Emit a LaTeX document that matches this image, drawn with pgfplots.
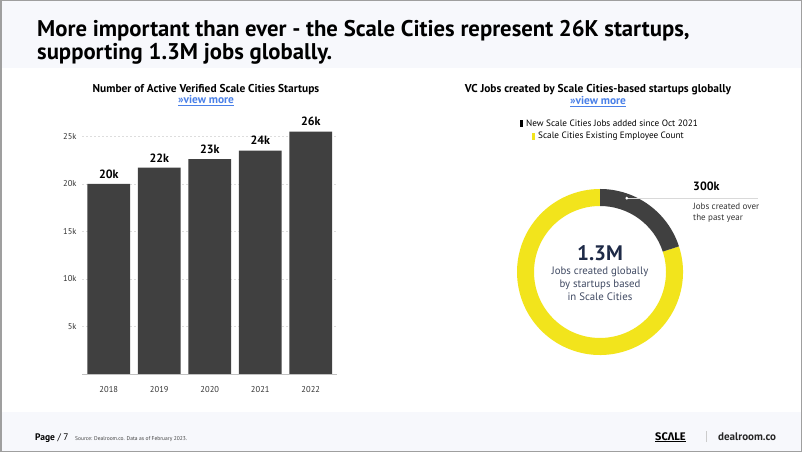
\documentclass[border=0pt]{standalone}
\usepackage{pgfplots}
\pgfplotsset{compat=1.18}
\usepackage{pgfplotstable}
\usepackage{fontspec}
\setmainfont{PT Sans}
\newfontfamily\fira{Fira Sans}
\definecolor{barc}{HTML}{404040}
\definecolor{yel}{HTML}{F2E41C}
\definecolor{hdr}{HTML}{F7F8FC}
\definecolor{navy}{HTML}{1E2A47}
\definecolor{linkc}{HTML}{4A80E8}
\definecolor{gridc}{HTML}{DDDDDD}

\pgfplotstableread{
x y lab
0 20000 20k
1 21700 22k
2 22600 23k
3 23500 24k
4 25500 26k
}\startups

\pgfplotstableread{
part value
new 260
existing 1040
}\jobs

\newcommand{\fs}[1]{\fontsize{#1}{#1}\selectfont}

\begin{document}
\begin{tikzpicture}
% page
\fill[white] (0pt,0pt) rectangle (802pt,452pt);
\fill[hdr] (0pt,452pt) rectangle (802pt,384pt);
\fill[hdr] (0pt,0pt) rectangle (802pt,40pt);
\draw[gray!75, line width=1.5pt] (0.75pt,0.75pt) rectangle (801.25pt,451.25pt);

% main title
\node[anchor=base west, inner sep=0, font=\fs{22.7}\bfseries] at (37pt,415pt) {More important than ever - the Scale Cities represent 26K startups,};
\node[anchor=base west, inner sep=0, font=\fs{22.7}\bfseries] at (37pt,392pt) {supporting 1.3M jobs globally.};

% bar chart title
\node[anchor=base, inner sep=0, font=\fs{11.4}\bfseries] at (206pt,359pt) {Number of Active Verified Scale Cities Startups};
\node[anchor=base, inner sep=0, font=\fs{11.4}\bfseries, text=linkc] at (206pt,348pt) {\underline{»view more}};

% bar chart
\begin{axis}[at={(82pt,78pt)}, anchor=south west, scale only axis,
  width=255pt, height=252pt,
  ybar, bar width=0.85,
  xmin=-0.53, xmax=4.52, ymin=0, ymax=26500,
  axis line style={draw=none}, tick style={draw=none},
  ymajorgrids, grid style={gridc, dash pattern=on 2pt off 2pt},
  xtick=data, xticklabels={2018,2019,2020,2021,2022},
  ytick={5000,10000,15000,20000,25000},
  yticklabels={5k,10k,15k,20k,25k},
  scaled y ticks=false,
  ticklabel style={font=\fs{8.5}, text=black!80},
  xticklabel style={yshift=-5pt},
  yticklabel style={xshift=-2pt},
  nodes near coords, point meta=explicit symbolic,
  nodes near coords style={font=\fs{12}\bfseries, text=black, anchor=south, yshift=2pt},
  clip=false]
\addplot[fill=barc, draw=none] table[x=x, y=y, meta=lab]{\startups};
\draw[gridc!70!gray] (axis description cs:0,0) -- (axis description cs:1,0);
\end{axis}

% donut title & legend
\node[anchor=base, inner sep=0, font=\fs{11.4}\bfseries] at (598pt,359.5pt) {VC Jobs created by Scale Cities-based startups globally};
\node[anchor=base, inner sep=0, font=\fs{11.4}\bfseries, text=linkc] at (598pt,347pt) {\underline{»view more}};
\fill[black] (519.5pt,325pt) rectangle (522.5pt,332pt);
\node[anchor=base west, inner sep=0, font=\fs{9.2}] at (526pt,325pt) {New Scale Cities Jobs added since Oct 2021};
\fill[yel] (532pt,312pt) rectangle (535pt,319pt);
\node[anchor=base west, inner sep=0, font=\fs{9.2}] at (538pt,313pt) {Scale Cities Existing Employee Count};

% donut
\pgfplotstablegetelem{0}{value}\of\jobs \let\vnew\pgfplotsretval
\pgfplotstablegetelem{1}{value}\of\jobs \let\vold\pgfplotsretval
\pgfmathsetmacro\aend{90-360*(\vnew/(\vnew+\vold))}
\begin{axis}[at={(600pt,180pt)}, anchor=center, hide axis, scale only axis,
  width=180pt, height=180pt,
  xmin=-90, xmax=90, ymin=-90, ymax=90, clip=false]
\fill[yel] (axis cs:{83*cos(\aend)},{83*sin(\aend)}) arc[start angle=\aend, end angle=-270, radius=83pt]
   -- (axis cs:0,66) arc[start angle=-270, end angle=\aend, radius=66pt] -- cycle;
\fill[barc] (axis cs:0,83) arc[start angle=90, end angle=\aend, radius=83pt]
   -- (axis cs:{66*cos(\aend)},{66*sin(\aend)}) arc[start angle=\aend, end angle=90, radius=66pt] -- cycle;
\draw[gray!30, line width=0.6pt] (axis cs:{78.5*cos(70)},{78.5*sin(70)}) -- (axis cs:158,{78.5*sin(70)});
\fill[white] (axis cs:{78.5*cos(70)},{78.5*sin(70)}) circle[radius=1.6pt];
\end{axis}

% donut annotations
\node[anchor=base, inner sep=0, font=\fs{21}\bfseries, text=navy] at (600pt,191pt) {1.3M};
\node[anchor=base, inner sep=0, font=\fs{10.8}, text=navy!85] at (600pt,177pt) {Jobs created globally};
\node[anchor=base, inner sep=0, font=\fs{10.8}, text=navy!85] at (600pt,164pt) {by startups based};
\node[anchor=base, inner sep=0, font=\fs{10.8}, text=navy!85] at (600pt,151pt) {in Scale Cities};
\node[anchor=base west, inner sep=0, font=\fs{12}\bfseries] at (693pt,261pt) {300k};
\node[anchor=base west, inner sep=0, font=\fs{9}, text=black!80] at (693pt,242pt) {Jobs created over};
\node[anchor=base west, inner sep=0, font=\fs{9}, text=black!80] at (693pt,231pt) {the past year};

% footer
\node[anchor=base west, inner sep=0, font=\fs{9.5}] at (35pt,12pt) {\textbf{Page} / 7};
\node[anchor=base west, inner sep=0, font=\fs{5.5}, text=black!75] at (75pt,12pt) {Source: Dealroom.co. Data as of February 2023.};
\node[anchor=base west, inner sep=0, font=\fira\fs{11}\bfseries] at (655pt,12pt) {\underline{SCΛLE}};
\draw[gray!40, line width=0.6pt] (706pt,10pt) -- (706pt,21pt);
\node[anchor=base west, inner sep=0, font=\fs{11}\bfseries, text=black!85] at (718pt,12pt) {dealroom.co};
\end{tikzpicture}
\end{document}
